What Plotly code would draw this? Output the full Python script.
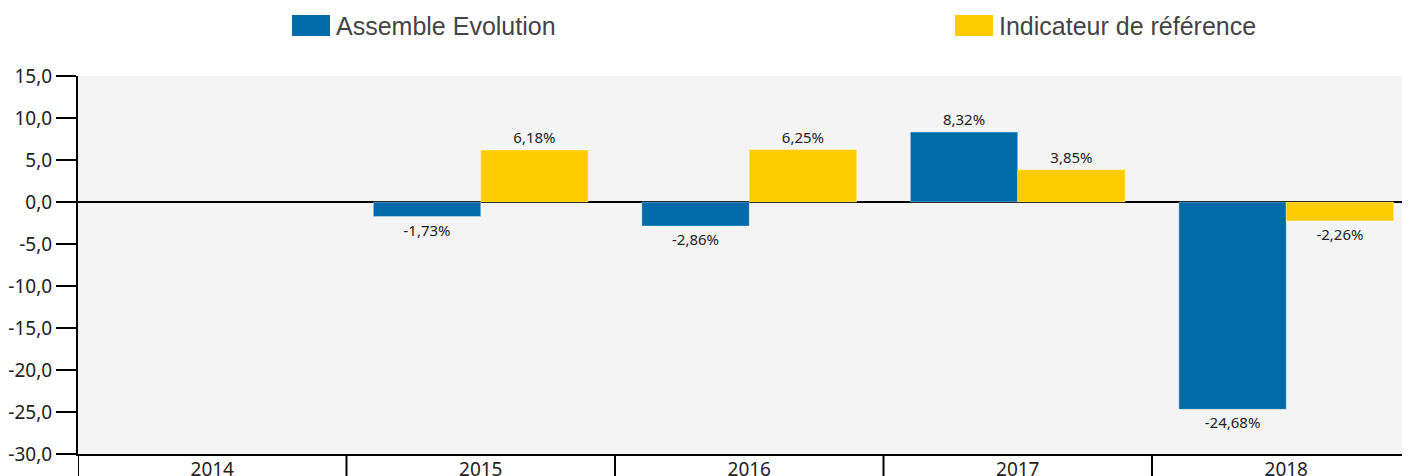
import plotly.graph_objects as go

categories = ["2014", "2015", "2016", "2017", "2018"]
fund_name = "Assemble Evolution"
bench_name = "Indicateur de référence"
fund_values = [None, -1.73, -2.86, 8.32, -24.68]
bench_values = [None, 6.18, 6.25, 3.85, -2.26]
y_tick_values = [15, 10, 5, 0, -5, -10, -15, -20, -25, -30]
y_tick_labels = [f"{v:.1f}".replace(".", ",") for v in y_tick_values]

BLUE = "#006BA8"
YELLOW = "#FFCC00"

# page body has an 8px default margin: size the figure so it ends at the window edge
OFF = 8
W, H = 1410 - OFF, 476 - OFF
L, T = 78 - OFF, 76 - OFF
B = H - (454 - OFF)
PW = W - L
PH = H - T - B
CAT_W = 268.5


def fmt(v):
    return "" if v is None else f"{v:.2f}%".replace(".", ",")


def px_x(p):
    return (p - OFF - L) / PW


def px_y(p):
    return (H - B - (p - OFF)) / PH


fig = go.Figure()
for name, vals, col in [(fund_name, fund_values, BLUE), (bench_name, bench_values, YELLOW)]:
    fig.add_trace(go.Bar(
        x=categories, y=vals, name=name,
        marker=dict(color=col, line=dict(color="rgba(255,255,255,0.35)", width=1)),
        text=[fmt(v) for v in vals], textposition="outside",
        textfont=dict(family="Noto Sans", size=15, color="#222222"),
        cliponaxis=False, showlegend=False,
    ))

shapes = []
# category boundary ticks on the x axis
for i in range(len(categories)):
    shapes.append(dict(type="line", xref="x", yref="paper", x0=i - 0.5, x1=i - 0.5,
                       y0=0, y1=-B / PH - 0.01, line=dict(color="black", width=2)))

annotations = []
legend_items = [(fund_name, BLUE, 292), (bench_name, YELLOW, 955)]
for name, col, x0 in legend_items:
    shapes.append(dict(type="rect", xref="paper", yref="paper",
                       x0=px_x(x0), x1=px_x(x0 + 38), y0=px_y(36), y1=px_y(15),
                       fillcolor=col, line=dict(width=0)))
    annotations.append(dict(xref="paper", yref="paper", x=px_x(x0 + 42), y=px_y(26),
                            xanchor="left", yanchor="middle", showarrow=False,
                            text=name, font=dict(family="Liberation Sans", size=25, color="#444444")))

fig.update_layout(
    width=W, height=H,
    margin=dict(l=L, r=0, t=T, b=B, pad=0, autoexpand=False),
    paper_bgcolor="white", plot_bgcolor="#F4F4F4",
    barmode="group", bargap=0.2, bargroupgap=0,
    showlegend=False,
    shapes=shapes, annotations=annotations,
    font=dict(family="Noto Sans", color="#222222"),
)
fig.update_xaxes(
    type="category", range=[-0.5, -0.5 + PW / CAT_W], automargin=False,
    showline=True, linecolor="black", linewidth=2,
    ticks="", showgrid=False, zeroline=False,
    tickfont=dict(family="Noto Sans", size=19, color="#222222"),
    ticklabelstandoff=-3,
)
fig.update_yaxes(
    range=[-30, 15], tickvals=y_tick_values, ticktext=y_tick_labels, automargin=False,
    showline=True, linecolor="black", linewidth=2,
    ticks="outside", ticklen=20, tickwidth=2, tickcolor="black",
    showgrid=False, zeroline=True, zerolinecolor="black", zerolinewidth=2,
    tickfont=dict(family="Noto Sans", size=19, color="#222222"),
)

fig.write_html("out.html")
